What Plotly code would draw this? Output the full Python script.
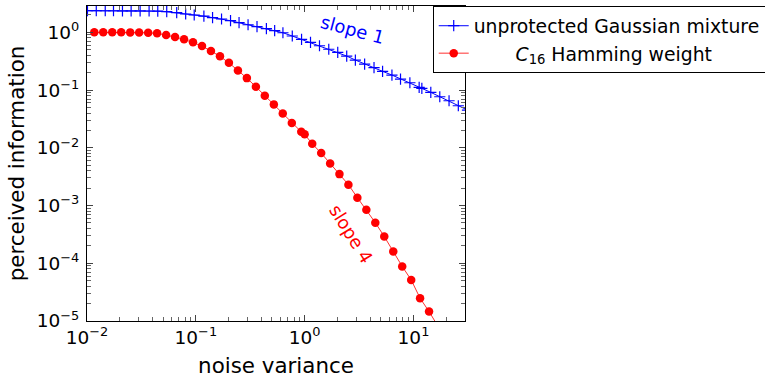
import math
import plotly.graph_objects as go

# ---- data ----
blue_x = [0.0101, 0.01217, 0.01471, 0.01752, 0.02118, 0.02544, 0.03077, 0.0372, 0.04469, 0.05403,
          0.06672, 0.08065, 0.09667, 0.1186, 0.1425, 0.1723, 0.2084, 0.2496, 0.302, 0.365,
          0.4451, 0.5302, 0.6316, 0.7698, 0.9367, 1.132, 1.369, 1.666, 2.014, 2.435,
          2.925, 3.558, 4.34, 5.202, 6.341, 7.603, 9.268, 11.28, 11.94, 14.43,
          17.45, 21.23, 25.83, 31.35]
blue_y = [2.368, 2.368, 2.366, 2.364, 2.358, 2.355, 2.349, 2.339, 2.321, 2.275,
          2.186, 2.076, 1.994, 1.905, 1.795, 1.70, 1.589, 1.467, 1.354, 1.251,
          1.160, 1.070, 0.984, 0.863, 0.756, 0.671, 0.586, 0.509, 0.450, 0.388,
          0.331, 0.282, 0.245, 0.211, 0.182, 0.155, 0.1338, 0.1113, 0.1070, 0.0912,
          0.0766, 0.0653, 0.0535, 0.0450]

red_x = [0.01167, 0.0141, 0.01706, 0.02061, 0.02495, 0.03013, 0.03648, 0.04406, 0.05333, 0.06442,
         0.07798, 0.09419, 0.114, 0.1377, 0.1667, 0.2014, 0.2438, 0.2944, 0.3565, 0.4305,
         0.5212, 0.6295, 0.7621, 0.931, 1.0, 1.174, 1.419, 1.715, 2.089, 2.525,
         3.05, 3.69, 4.46, 5.39, 6.52, 7.88, 9.53, 11.5, 13.9, 16.8]
red_y = [1.0, 1.0, 1.0, 1.0, 0.998, 0.993, 0.982, 0.961, 0.898, 0.829,
         0.756, 0.671, 0.579, 0.474, 0.384, 0.296, 0.219, 0.161, 0.114, 0.0796,
         0.0565, 0.0394, 0.0268, 0.0189, 0.0171, 0.01173, 0.00809, 0.00537, 0.0035, 0.0023,
         0.00137, 0.000842, 0.000505, 0.000291, 0.00016, 8.81e-5, 5.15e-5, 2.48e-5, 1.46e-5, 8.1e-6]

x_ticks = [0.01, 0.1, 1, 10]
x_ticktext = ["10<sup>\u22122</sup>", "10<sup>\u22121</sup>", "10<sup>0</sup>", "10<sup>1</sup>"]
y_ticks = [1e-5, 1e-4, 1e-3, 1e-2, 1e-1, 1]
y_ticktext = ["10<sup>\u22125</sup>", "10<sup>\u22124</sup>", "10<sup>\u22123</sup>",
              "10<sup>\u22122</sup>", "10<sup>\u22121</sup>", "10<sup>0</sup>"]

x_minor = [m * 10 ** e for e in range(-2, 2) for m in range(2, 10)]
y_minor = [m * 10 ** e for e in range(-5, 1) for m in range(2, 10)]

# annotation anchor points (data units)
slope1_pos = (2.75, 1.12)
slope4_pos = (2.67, 3.3e-4)

FONT = "DejaVu Sans"

fig = go.Figure()
fig.add_trace(go.Scatter(
    x=blue_x, y=blue_y, mode="lines+markers",
    name="unprotected Gaussian mixture",
    line=dict(color="#0000ff", width=1),
    marker=dict(symbol="cross-thin", size=8, line=dict(color="#0000ff", width=1.2), color="#0000ff"),
))
fig.add_trace(go.Scatter(
    x=red_x, y=red_y, mode="lines+markers",
    name="\u00a0" * 7 + "<i>C</i><sub>16</sub> Hamming weight",
    line=dict(color="#ff3030", width=1),
    marker=dict(symbol="circle", size=8.5, color="#ff0000"),
))

axis_common = dict(
    type="log", showgrid=False, zeroline=False, automargin=False,
    showline=True, linecolor="black", linewidth=1, mirror="allticks",
    ticks="inside", ticklen=6, tickcolor="#444", tickwidth=1,
    tickfont=dict(family=FONT, size=18.5, color="black"),
    tickmode="array",
)

fig.update_xaxes(
    **axis_common,
    range=[-2, 1.4735],
    tickvals=x_ticks, ticktext=x_ticktext,
    minor=dict(tickmode="array", tickvals=x_minor, ticks="inside", ticklen=4, tickcolor="#666", showgrid=False),
    title=dict(text="noise variance", font=dict(family=FONT, size=21.4, color="black"), standoff=10),
)
fig.update_yaxes(
    **axis_common,
    range=[-5, 0.456],
    tickvals=y_ticks, ticktext=y_ticktext,
    minor=dict(tickmode="array", tickvals=y_minor, ticks="inside", ticklen=4, tickcolor="#666", showgrid=False),
    ticklabelstandoff=3,
    title=dict(text="perceived information", font=dict(family=FONT, size=21.4, color="black"), standoff=6),
)

fig.add_annotation(x=math.log10(slope1_pos[0]), y=math.log10(slope1_pos[1]), xref="x", yref="y",
                   text="slope 1", showarrow=False, textangle=15,
                   font=dict(family=FONT, size=18, color="#0000ff"))
fig.add_annotation(x=math.log10(slope4_pos[0]), y=math.log10(slope4_pos[1]), xref="x", yref="y",
                   text="slope 4", showarrow=False, textangle=58,
                   font=dict(family=FONT, size=18, color="#ff0000"))

fig.update_layout(
    width=765, height=378,
    margin=dict(l=87, r=300, t=6, b=57, autoexpand=False),
    paper_bgcolor="white", plot_bgcolor="white",
    showlegend=True,
    legend=dict(
        x=0.9146, y=1.0, xanchor="left", yanchor="top",
        bgcolor="white", bordercolor="black", borderwidth=1,
        font=dict(family=FONT, size=18.8, color="black"),
        itemwidth=30, tracegroupgap=0,
    ),
)

fig.write_html("out.html", config={"displayModeBar": False},
               post_script="document.body.style.margin='0';")
